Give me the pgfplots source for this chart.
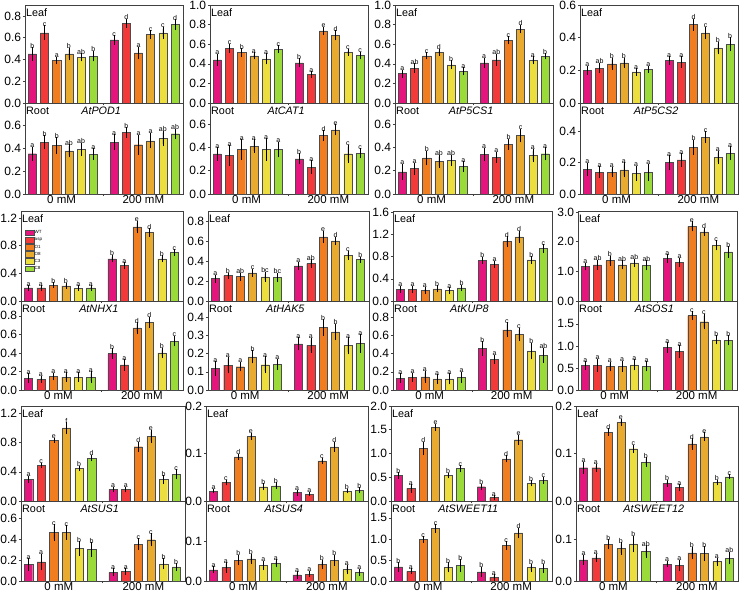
\documentclass[border=0pt]{standalone}
\usepackage{pgfplots}
\pgfplotsset{compat=1.18}
\usepackage{pgfplotstable}
\usepackage{fontspec}
\setmainfont{Liberation Sans}
\definecolor{c0}{RGB}{228,22,125}
\definecolor{c1}{RGB}{242,58,58}
\definecolor{c2}{RGB}{240,126,32}
\definecolor{c3}{RGB}{232,171,48}
\definecolor{c4}{RGB}{235,222,62}
\definecolor{c5}{RGB}{154,219,58}
\newcommand{\ticksize}{\fontsize{12}{13}\selectfont}
\newcommand{\labsize}{\fontsize{10.8}{12}\selectfont}
\newcommand{\grpsize}{\fontsize{11.5}{12}\selectfont}
\newcommand{\letsize}{\fontsize{7}{8}\selectfont}

\pgfplotsset{
  panel/.style={scale only axis, anchor=south west, xmin=0.4, xmax=13.4, ymin=0, clip=false,
    axis line style={black!75, line width=0.6pt}, tick style={black!75, line width=0.5pt},
    tick align=outside, major tick length=2.2pt, ytick pos=left, xtick pos=bottom,
    xtick={6.85}, xticklabels={}, scaled y ticks=false,
    /pgf/number format/assume math mode=true,
    yticklabel style={font=\ticksize, /pgf/number format/fixed, /pgf/number format/fixed zerofill, /pgf/number format/precision=1, inner sep=1.5pt}},
  leaf/.style={extra description/.code={\node[font=\labsize, anchor=base west, inner sep=1pt, yshift=-11.5pt] at (axis description cs:0,1) {Leaf};}},
  root/.style={extra x ticks={3.4,10.1}, extra x tick labels={0 mM,200 mM},
    extra x tick style={major tick length=0pt, xticklabel style={font=\grpsize, inner sep=1pt}},
    extra description/.code={\node[font=\labsize, anchor=base west, inner sep=1pt, yshift=-11.5pt] at (axis description cs:0,1) {Root};
      \node[font=\labsize\itshape, anchor=base, yshift=-11.5pt] at (axis description cs:0.48,1) {#1};}},
  barplot/.style={ybar, bar width=0.66, bar shift=0pt, draw=black!70, line width=0.4pt,
    error bars/y dir=both, error bars/y explicit, error bars/error bar style={black, line width=0.45pt},
    error bars/error mark options={black, line width=0.45pt, mark size=2pt},
    legend image code/.code={\draw[##1, draw=black!70] (0pt,-2.6pt) rectangle (8.5pt,2.8pt);}},
  nhxlegend/.style={legend entries={WT,asp,O1,O8,C3,C8}, legend cell align=left,
    legend style={at={(0.025,0.79)}, anchor=north west, draw=none, fill=none,
      font=\fontsize{4.5}{5}\selectfont, inner sep=0pt, row sep=1.2pt, nodes={inner sep=0.6pt}}},
}

\newcommand{\drawbars}[1]{%
  \pgfplotsinvokeforeach{0,1,2,3,4,5}{%
    \addplot[barplot, fill=c##1] table[x expr=\thisrow{t}+##1, y=y##1, y error=e##1] {#1};
    \addplot[draw=none, forget plot, nodes near coords, point meta=explicit symbolic,
      nodes near coords style={font=\letsize, anchor=south, inner sep=0.8pt, text=black}]
      table[x expr=\thisrow{t}+##1, y expr=\thisrow{y##1}+\thisrow{e##1}, meta=l##1] {#1};
  }%
}
\newcommand{\Panel}[8]{%
  \begin{axis}[panel, at={(#1pt,#3pt)}, width=#2pt, height=#4pt, ymax=#5, ytick={#6}, #8]
  \drawbars{#7}
  \end{axis}%
}

% columns: t  y0..y5 (WT asp O1 O8 C3 C8)  e0..e5  l0..l5
\pgfplotstableread{
t y0 y1 y2 y3 y4 y5 e0 e1 e2 e3 e4 e5 l0 l1 l2 l3 l4 l5
1 0.45 0.645 0.39 0.45 0.42 0.43 0.045 0.05 0.015 0.04 0.02 0.03 b c a b ab b
7.7 0.58 0.73 0.46 0.63 0.645 0.72 0.025 0.025 0.04 0.02 0.035 0.03 c d a c c d
}\PODleaf
\pgfplotstableread{
t y0 y1 y2 y3 y4 y5 e0 e1 e2 e3 e4 e5 l0 l1 l2 l3 l4 l5
1 0.354 0.454 0.427 0.38 0.395 0.35 0.045 0.045 0.055 0.04 0.04 0.035 a b b ab ab a
7.7 0.457 0.54 0.433 0.468 0.49 0.53 0.05 0.03 0.07 0.05 0.05 0.025 a b a a ab ab
}\PODroot
\pgfplotstableread{
t y0 y1 y2 y3 y4 y5 e0 e1 e2 e3 e4 e5 l0 l1 l2 l3 l4 l5
1 0.44 0.56 0.515 0.48 0.45 0.55 0.04 0.025 0.025 0.015 0.035 0.02 a c b a a c
7.7 0.41 0.29 0.735 0.69 0.515 0.485 0.025 0.015 0.02 0.03 0.015 0.02 b a e d c c
}\CATleaf
\pgfplotstableread{
t y0 y1 y2 y3 y4 y5 e0 e1 e2 e3 e4 e5 l0 l1 l2 l3 l4 l5
1 0.343 0.33 0.38 0.41 0.38 0.38 0.04 0.07 0.07 0.04 0.08 0.05 a a a a a a
7.7 0.30 0.23 0.50 0.55 0.345 0.35 0.03 0.04 0.03 0.03 0.06 0.025 b a d e c c
}\CATroot
\pgfplotstableread{
t y0 y1 y2 y3 y4 y5 e0 e1 e2 e3 e4 e5 l0 l1 l2 l3 l4 l5
1 0.30 0.355 0.48 0.52 0.39 0.325 0.02 0.03 0.015 0.015 0.025 0.02 a ab c d b a
7.7 0.41 0.44 0.64 0.755 0.435 0.475 0.03 0.04 0.02 0.025 0.02 0.01 a ab c d a b
}\PCSaleaf
\pgfplotstableread{
t y0 y1 y2 y3 y4 y5 e0 e1 e2 e3 e4 e5 l0 l1 l2 l3 l4 l5
1 0.19 0.217 0.31 0.28 0.29 0.235 0.05 0.035 0.045 0.04 0.03 0.03 a a b ab ab a
7.7 0.337 0.314 0.425 0.50 0.33 0.345 0.04 0.03 0.03 0.04 0.04 0.04 a a b c a a
}\PCSaroot
\pgfplotstableread{
t y0 y1 y2 y3 y4 y5 e0 e1 e2 e3 e4 e5 l0 l1 l2 l3 l4 l5
1 0.2 0.214 0.24 0.245 0.19 0.206 0.015 0.02 0.025 0.02 0.01 0.01 a ab b b a a
7.7 0.26 0.25 0.48 0.43 0.337 0.36 0.015 0.025 0.025 0.025 0.025 0.03 a a d c b b
}\PCSbleaf
\pgfplotstableread{
t y0 y1 y2 y3 y4 y5 e0 e1 e2 e3 e4 e5 l0 l1 l2 l3 l4 l5
1 0.155 0.138 0.14 0.153 0.132 0.138 0.03 0.025 0.02 0.035 0.035 0.04 a a a a a a
7.7 0.2 0.217 0.298 0.362 0.234 0.26 0.035 0.03 0.035 0.025 0.03 0.03 a a b c a a
}\PCSbroot
\pgfplotstableread{
t y0 y1 y2 y3 y4 y5 e0 e1 e2 e3 e4 e5 l0 l1 l2 l3 l4 l5
1 0.19 0.19 0.23 0.22 0.185 0.19 0.01 0.01 0.01 0.015 0.01 0.01 a a b b a a
7.7 0.61 0.51 1.07 0.99 0.61 0.70 0.025 0.02 0.06 0.03 0.02 0.015 b a e d b c
}\NHXleaf
\pgfplotstableread{
t y0 y1 y2 y3 y4 y5 e0 e1 e2 e3 e4 e5 l0 l1 l2 l3 l4 l5
1 0.127 0.116 0.145 0.138 0.138 0.138 0.03 0.015 0.02 0.03 0.03 0.04 a a a a a a
7.7 0.393 0.27 0.67 0.727 0.40 0.527 0.035 0.04 0.04 0.04 0.035 0.035 b a d d b c
}\NHXroot
\pgfplotstableread{
t y0 y1 y2 y3 y4 y5 e0 e1 e2 e3 e4 e5 l0 l1 l2 l3 l4 l5
1 0.223 0.253 0.243 0.28 0.24 0.237 0.02 0.01 0.02 0.02 0.03 0.025 a b ab c bc bc
7.7 0.35 0.373 0.64 0.60 0.457 0.413 0.02 0.025 0.04 0.02 0.025 0.01 a ab e d c b
}\HAKleaf
\pgfplotstableread{
t y0 y1 y2 y3 y4 y5 e0 e1 e2 e3 e4 e5 l0 l1 l2 l3 l4 l5
1 0.118 0.137 0.128 0.183 0.139 0.14 0.03 0.035 0.015 0.025 0.035 0.02 a a a b a a
7.7 0.254 0.246 0.344 0.32 0.244 0.255 0.025 0.03 0.035 0.035 0.035 0.04 a a b b a a
}\HAKroot
\pgfplotstableread{
t y0 y1 y2 y3 y4 y5 e0 e1 e2 e3 e4 e5 l0 l1 l2 l3 l4 l5
1 0.21 0.21 0.19 0.22 0.19 0.235 0.03 0.03 0.03 0.03 0.02 0.02 a a a b a b
7.7 0.73 0.66 1.07 1.155 0.74 0.945 0.03 0.03 0.06 0.07 0.03 0.04 b a d d b c
}\KUPleaf
\pgfplotstableread{
t y0 y1 y2 y3 y4 y5 e0 e1 e2 e3 e4 e5 l0 l1 l2 l3 l4 l5
1 0.13 0.14 0.145 0.123 0.123 0.14 0.03 0.025 0.045 0.03 0.04 0.04 a a a a a a
7.7 0.455 0.335 0.663 0.61 0.43 0.38 0.06 0.03 0.06 0.05 0.07 0.06 b a c c b ab
}\KUProot
\pgfplotstableread{
t y0 y1 y2 y3 y4 y5 e0 e1 e2 e3 e4 e5 l0 l1 l2 l3 l4 l5
1 1.16 1.22 1.36 1.22 1.28 1.2 0.06 0.1 0.1 0.08 0.07 0.1 a ab b ab ab ab
7.7 1.43 1.3 2.51 2.33 1.87 1.65 0.08 0.09 0.1 0.07 0.1 0.12 a a e d c b
}\SOSleaf
\pgfplotstableread{
t y0 y1 y2 y3 y4 y5 e0 e1 e2 e3 e4 e5 l0 l1 l2 l3 l4 l5
1 0.56 0.56 0.53 0.54 0.57 0.54 0.05 0.1 0.06 0.08 0.08 0.07 a a a a a a
7.7 0.965 0.87 1.69 1.55 1.14 1.13 0.07 0.1 0.05 0.13 0.06 0.07 a a c c b b
}\SOSroot
\pgfplotstableread{
t y0 y1 y2 y3 y4 y5 e0 e1 e2 e3 e4 e5 l0 l1 l2 l3 l4 l5
1 0.296 0.488 0.83 1.0 0.447 0.588 0.02 0.01 0.01 0.05 0.01 0.015 a c e f b d
7.7 0.16 0.155 0.743 0.885 0.296 0.365 0.01 0.01 0.04 0.06 0.03 0.04 a a d e b c
}\SUSaleaf
\pgfplotstableread{
t y0 y1 y2 y3 y4 y5 e0 e1 e2 e3 e4 e5 l0 l1 l2 l3 l4 l5
1 0.16 0.184 0.465 0.465 0.313 0.303 0.04 0.06 0.06 0.05 0.05 0.05 a a c c b b
7.7 0.084 0.09 0.355 0.397 0.165 0.135 0.02 0.015 0.035 0.045 0.035 0.015 a a c c b b
}\SUSaroot
\pgfplotstableread{
t y0 y1 y2 y3 y4 y5 e0 e1 e2 e3 e4 e5 l0 l1 l2 l3 l4 l5
1 0.021 0.039 0.093 0.136 0.030 0.032 0.001 0.002 0.002 0.003 0.003 0.003 a c d e b b
7.7 0.0175 0.0147 0.0846 0.114 0.021 0.023 0.002 0.001 0.002 0.006 0.001 0.002 a a c d b b
}\SUSbleaf
\pgfplotstableread{
t y0 y1 y2 y3 y4 y5 e0 e1 e2 e3 e4 e5 l0 l1 l2 l3 l4 l5
1 0.028 0.034 0.052 0.055 0.039 0.044 0.004 0.008 0.008 0.008 0.007 0.005 a a b b a a
7.7 0.015 0.017 0.042 0.052 0.029 0.021 0.004 0.003 0.006 0.009 0.007 0.004 a a b b a a
}\SUSbroot
\pgfplotstableread{
t y0 y1 y2 y3 y4 y5 e0 e1 e2 e3 e4 e5 l0 l1 l2 l3 l4 l5
1 0.536 0.264 1.107 1.55 0.536 0.68 0.03 0.05 0.1 0.03 0.02 0.03 b a d e b c
7.7 0.30 0.07 0.886 1.29 0.37 0.44 0.02 0.01 0.03 0.06 0.02 0.03 b a d e b c
}\SWaleaf
\pgfplotstableread{
t y0 y1 y2 y3 y4 y5 e0 e1 e2 e3 e4 e5 l0 l1 l2 l3 l4 l5
1 0.333 0.23 0.984 1.246 0.325 0.365 0.06 0.02 0.03 0.05 0.07 0.1 b a c c b b
7.7 0.214 0.087 0.84 1.14 0.317 0.30 0.08 0.03 0.06 0.08 0.05 0.06 b a c d b b
}\SWaroot
\pgfplotstableread{
t y0 y1 y2 y3 y4 y5 e0 e1 e2 e3 e4 e5 l0 l1 l2 l3 l4 l5
1 0.07 0.07 0.145 0.166 0.11 0.082 0.008 0.004 0.004 0.003 0.004 0.006 a a d e c b
7.7 0.037 0.028 0.12 0.135 0.039 0.051 0.003 0.003 0.008 0.005 0.002 0.001 b a d e b c
}\SWbleaf
\pgfplotstableread{
t y0 y1 y2 y3 y4 y5 e0 e1 e2 e3 e4 e5 l0 l1 l2 l3 l4 l5
1 0.05 0.055 0.087 0.077 0.088 0.07 0.007 0.005 0.007 0.01 0.015 0.01 a a b b b ab
7.7 0.04 0.037 0.067 0.065 0.046 0.054 0.003 0.009 0.01 0.013 0.005 0.01 a a b b a ab
}\SWbroot

\begin{document}
\begin{tikzpicture}
\useasboundingbox (0,0) rectangle (742pt,594pt);
% ---------- Row 1
\Panel{25}{158.6}{491}{98}{0.9}{0,0.2,0.4,0.6,0.8}{\PODleaf}{leaf}
\Panel{25}{158.6}{400}{91}{0.8}{0,0.2,0.4,0.6}{\PODroot}{root=AtPOD1}
\Panel{210}{158.6}{491}{98}{1.0}{0,0.2,0.4,0.6,0.8,1.0}{\CATleaf}{leaf}
\Panel{210}{158.6}{400}{91}{0.78}{0,0.2,0.4,0.6}{\CATroot}{root=AtCAT1}
\Panel{395}{158.6}{491}{98}{1.0}{0,0.2,0.4,0.6,0.8,1.0}{\PCSaleaf}{leaf}
\Panel{395}{158.6}{400}{91}{0.78}{0,0.2,0.4,0.6}{\PCSaroot}{root=AtP5CS1}
\Panel{580}{158.6}{491}{98}{0.6}{0,0.2,0.4,0.6}{\PCSbleaf}{leaf}
\Panel{580}{158.6}{400}{91}{0.58}{0,0.2,0.4}{\PCSbroot}{root=AtP5CS2}
% ---------- Row 2
\Panel{21}{162}{293}{90}{1.3}{0,0.4,0.8,1.2}{\NHXleaf}{leaf, nhxlegend}
\Panel{21}{162}{204}{89}{0.96}{0,0.2,0.4,0.6,0.8}{\NHXroot}{root=AtNHX1}
\Panel{208}{161}{293}{90}{0.9}{0,0.2,0.4,0.6,0.8}{\HAKleaf}{leaf}
\Panel{208}{161}{204}{89}{0.49}{0,0.1,0.2,0.3,0.4}{\HAKroot}{root=AtHAK5}
\Panel{393}{159}{293}{90}{1.62}{0,0.4,0.8,1.2,1.6}{\KUPleaf}{leaf}
\Panel{393}{159}{204}{89}{0.98}{0,0.2,0.4,0.6,0.8}{\KUProot}{root=AtKUP8}
\Panel{578}{159}{293}{90}{3.03}{0,1,2,3}{\SOSleaf}{leaf}
\Panel{578}{159}{204}{89}{2.02}{0,0.5,1,1.5}{\SOSroot}{root=AtSOS1}
% ---------- Row 3
\Panel{21}{164}{93}{95}{1.3}{0,0.4,0.8,1.2}{\SUSaleaf}{leaf}
\Panel{21}{164}{13}{80}{0.77}{0,0.2,0.4,0.6}{\SUSaroot}{root=AtSUS1}
\Panel{206}{162}{93}{95}{0.2}{0,0.1,0.2}{\SUSbleaf}{leaf}
\Panel{206}{162}{13}{80}{0.2}{0,0.1}{\SUSbroot}{root=AtSUS4}
\Panel{391}{161}{93}{95}{2.0}{0,0.5,1,1.5,2}{\SWaleaf}{leaf}
\Panel{391}{161}{13}{80}{1.9}{0,0.5,1,1.5}{\SWaroot}{root=AtSWEET11}
\Panel{576}{162}{93}{95}{0.2}{0,0.1,0.2}{\SWbleaf}{leaf}
\Panel{576}{162}{13}{80}{0.19}{0,0.1}{\SWbroot}{root=AtSWEET12}
\end{tikzpicture}
\end{document}
